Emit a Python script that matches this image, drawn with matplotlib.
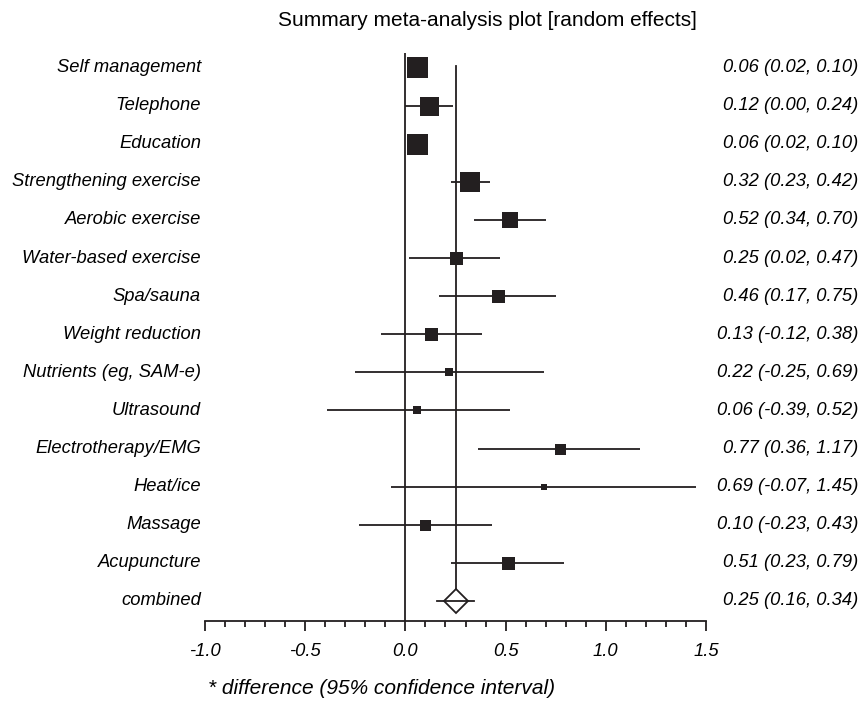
import matplotlib
matplotlib.use("Agg")
import matplotlib.pyplot as plt
from matplotlib import transforms

plt.rcParams['font.family'] = ['Liberation Sans', 'DejaVu Sans']

labels = ["Self management", "Telephone", "Education", "Strengthening exercise",
          "Aerobic exercise", "Water-based exercise", "Spa/sauna", "Weight reduction",
          "Nutrients (eg, SAM-e)", "Ultrasound", "Electrotherapy/EMG", "Heat/ice",
          "Massage", "Acupuncture"]
est = [0.06, 0.12, 0.06, 0.32, 0.52, 0.25, 0.46, 0.13, 0.22, 0.06, 0.77, 0.69, 0.10, 0.51]
lo = [0.02, 0.00, 0.02, 0.23, 0.34, 0.02, 0.17, -0.12, -0.25, -0.39, 0.36, -0.07, -0.23, 0.23]
hi = [0.10, 0.24, 0.10, 0.42, 0.70, 0.47, 0.75, 0.38, 0.69, 0.52, 1.17, 1.45, 0.43, 0.79]
weights = [21, 19, 21, 20, 16, 13, 13, 13, 8, 8, 11, 6, 11, 13]  # box size (px)
comb_label = "combined"
comb_est, comb_lo, comb_hi = 0.25, 0.16, 0.34
xticks = [-1.0, -0.5, 0.0, 0.5, 1.0, 1.5]

W, H = 865, 701
FS = 13.2
fig = plt.figure(figsize=(W / 100, H / 100), dpi=100)
ax = fig.add_axes([205 / W, 1 - 621 / H, (706 - 205) / W, (621 - 53) / H])
n = len(labels)
ax.set_xlim(-1.0, 1.5)
ax.set_ylim(n + 0.525, -0.38)

col = '#231f20'
for i in range(n):
    ax.plot([lo[i], hi[i]], [i, i], color=col, lw=1.3, solid_capstyle='butt', zorder=2)
    ax.plot(est[i], i, marker='s', ms=weights[i] * 0.72, color=col, mec=col, mew=0, zorder=3)

# combined
ax.plot([comb_lo, comb_hi], [n, n], color=col, lw=1.3, zorder=2)
ax.plot(comb_est, n, marker='D', ms=12.5, mfc='white', mec=col, mew=1.3, zorder=1.5)
ax.plot([comb_est, comb_est], [-0.04, n - 0.31], color=col, lw=1.3, zorder=1)
ax.axvline(0, color=col, lw=1.3, zorder=1)

for s in ['top', 'right', 'left']:
    ax.spines[s].set_visible(False)
ax.spines['bottom'].set_linewidth(1.3)
ax.spines['bottom'].set_color(col)
ax.set_yticks([])
ax.set_xticks(xticks)
ax.set_xticklabels([f"{t:.1f}" for t in xticks], fontstyle='italic', fontsize=FS)
ax.set_xticks([x / 10 for x in range(-10, 16)], minor=True)
ax.tick_params(axis='x', which='major', length=7.5, width=1.3, color=col, pad=8)
ax.tick_params(axis='x', which='minor', length=4.5, width=1.3, color=col)

lt = transforms.offset_copy(ax.transData, fig=fig, x=-4, y=0, units='dots')
rt = transforms.blended_transform_factory(ax.transAxes, ax.transData)
for i, lab in enumerate(labels + [comb_label]):
    ax.text(-1.0, i, lab, transform=lt, ha='right', va='center', fontstyle='italic', fontsize=FS)
vals = [f"{e:.2f} ({l:.2f}, {h:.2f})" for e, l, h in zip(est + [comb_est], lo + [comb_lo], hi + [comb_hi])]
for i, v in enumerate(vals):
    ax.text((858 - 205) / 501, i, v, transform=rt, ha='right', va='center', fontstyle='italic', fontsize=FS)

fig.text(487 / W, 1 - 21 / H, "Summary meta-analysis plot [random effects]", ha='center', va='center', fontsize=15)
fig.text(208 / W, 1 - 688 / H, "* difference (95% confidence interval)", ha='left', va='center',
         fontstyle='italic', fontsize=15)

fig.savefig("out.png", dpi=100)
